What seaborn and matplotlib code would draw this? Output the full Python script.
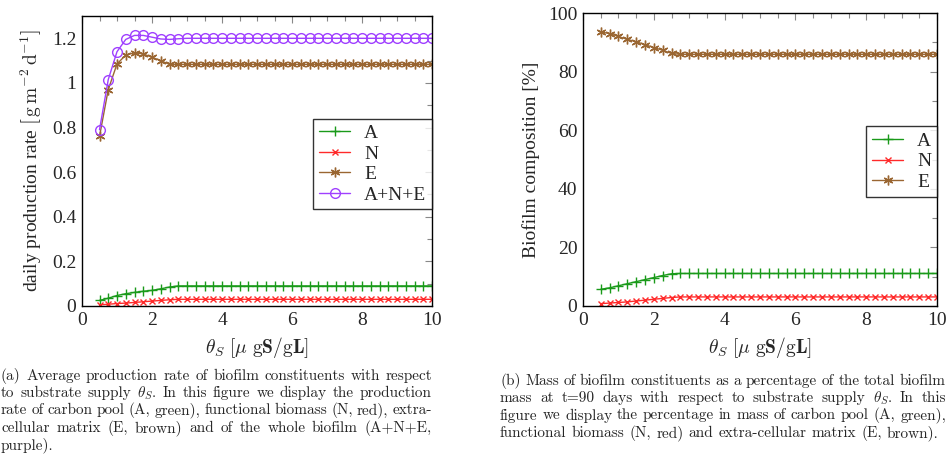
import numpy as np
import pandas as pd
import matplotlib
matplotlib.use("Agg")
import matplotlib.pyplot as plt
import seaborn as sns
from matplotlib.ticker import MultipleLocator

# ---------------- data ----------------
theta = [0.5, 0.75, 1.0, 1.25, 1.5, 1.75, 2.0, 2.25, 2.5, 2.75,
         3.0, 3.25, 3.5, 3.75, 4.0, 4.25, 4.5, 4.75, 5.0, 5.25,
         5.5, 5.75, 6.0, 6.25, 6.5, 6.75, 7.0, 7.25, 7.5, 7.75,
         8.0, 8.25, 8.5, 8.75, 9.0, 9.25, 9.5, 9.75, 10.0]

rate_A = [0.025, 0.035, 0.047, 0.055, 0.061, 0.066, 0.070, 0.077, 0.085, 0.090,
          0.090, 0.090, 0.090, 0.090, 0.090, 0.090, 0.090, 0.090, 0.090, 0.090,
          0.090, 0.090, 0.090, 0.090, 0.090, 0.090, 0.090, 0.090, 0.090, 0.090,
          0.090, 0.090, 0.090, 0.090, 0.090, 0.090, 0.090, 0.090, 0.090]
rate_N = [0.005, 0.008, 0.011, 0.013, 0.016, 0.019, 0.022, 0.025, 0.028, 0.030,
          0.030, 0.030, 0.030, 0.030, 0.030, 0.030, 0.030, 0.030, 0.030, 0.030,
          0.030, 0.030, 0.030, 0.030, 0.030, 0.030, 0.030, 0.030, 0.030, 0.030,
          0.030, 0.030, 0.030, 0.030, 0.030, 0.030, 0.030, 0.030, 0.030]
rate_E = [0.760, 0.970, 1.085, 1.125, 1.135, 1.130, 1.115, 1.100, 1.083, 1.083,
          1.083, 1.083, 1.083, 1.083, 1.083, 1.083, 1.083, 1.083, 1.083, 1.083,
          1.083, 1.083, 1.083, 1.083, 1.083, 1.083, 1.083, 1.083, 1.083, 1.083,
          1.083, 1.083, 1.083, 1.083, 1.083, 1.083, 1.083, 1.083, 1.083]
rate_ANE = [0.790, 1.015, 1.140, 1.195, 1.213, 1.213, 1.205, 1.197, 1.195, 1.198,
            1.200, 1.200, 1.200, 1.200, 1.200, 1.200, 1.200, 1.200, 1.200, 1.200,
            1.200, 1.200, 1.200, 1.200, 1.200, 1.200, 1.200, 1.200, 1.200, 1.200,
            1.200, 1.200, 1.200, 1.200, 1.200, 1.200, 1.200, 1.200, 1.200]

comp_A = [5.7, 6.2, 6.9, 7.6, 8.3, 9.0, 9.7, 10.4, 11.0, 11.1,
          11.1, 11.1, 11.1, 11.1, 11.1, 11.1, 11.1, 11.1, 11.1, 11.1,
          11.1, 11.1, 11.1, 11.1, 11.1, 11.1, 11.1, 11.1, 11.1, 11.1,
          11.1, 11.1, 11.1, 11.1, 11.1, 11.1, 11.1, 11.1, 11.1]
comp_N = [0.8, 1.0, 1.2, 1.4, 1.7, 2.0, 2.3, 2.6, 2.9, 3.1,
          3.1, 3.1, 3.1, 3.1, 3.1, 3.1, 3.1, 3.1, 3.1, 3.1,
          3.1, 3.1, 3.1, 3.1, 3.1, 3.1, 3.1, 3.1, 3.1, 3.1,
          3.1, 3.1, 3.1, 3.1, 3.1, 3.1, 3.1, 3.1, 3.1]
comp_E = [93.5, 93.0, 92.0, 91.0, 90.2, 89.2, 88.2, 87.3, 86.2, 85.9,
          85.9, 85.9, 85.9, 85.9, 85.9, 85.9, 85.9, 85.9, 85.9, 85.9,
          85.9, 85.9, 85.9, 85.9, 85.9, 85.9, 85.9, 85.9, 85.9, 85.9,
          85.9, 85.9, 85.9, 85.9, 85.9, 85.9, 85.9, 85.9, 85.9]

labels_rate = ["A", "N", "E", "A+N+E"]
labels_comp = ["A", "N", "E"]

caption_a = [
    "(a)  Average production rate of biofilm constituents with respect",
    r"to substrate supply $\theta_S$. In this figure we display the production",
    "rate of carbon pool (A, green), functional biomass (N, red), extra-",
    "cellular matrix (E, brown) and of the whole biofilm (A+N+E,",
    "purple).",
]
caption_b = [
    "(b) Mass of biofilm constituents as a percentage of the total biofilm",
    r"mass at t=90 days with respect to substrate supply $\theta_S$. In this",
    "figure we display the percentage in mass of carbon pool (A, green),",
    "functional biomass (N, red) and extra-cellular matrix (E, brown).",
]

# ---------------- style ----------------
sns.set_theme(style="white")
plt.rcParams["font.family"] = ["Liberation Serif", "DejaVu Serif"]
plt.rcParams["mathtext.fontset"] = "cm"

colors = {"A": "#1a9a1a", "N": "#ff2a2a", "E": "#9a6632", "A+N+E": "#a040ff"}
markers = {"A": "+", "N": "x", "E": (6, 2, 0), "A+N+E": "o"}
msize = {"A": 7, "N": 5, "E": 7, "A+N+E": 7}

W, H = 948, 461
fig = plt.figure(figsize=(W / 100, H / 100), dpi=100)
axL = fig.add_axes([82 / W, 1 - 306 / H, (432 - 82) / W, (306 - 16) / H])
axR = fig.add_axes([583 / W, 1 - 306 / H, (937 - 583) / W, (306 - 13) / H])


def draw(ax, series, labels):
    df = pd.DataFrame({"theta": theta})
    for lab, vals in zip(labels, series):
        df[lab] = vals
    long = df.melt(id_vars="theta", var_name="series", value_name="val")
    for lab in labels:
        sub = long[long["series"] == lab]
        kw = dict(color=colors[lab], marker=markers[lab], markersize=msize[lab],
                  linewidth=1.0, markeredgewidth=1.0, markeredgecolor=colors[lab])
        if lab == "A+N+E":
            kw["markerfacecolor"] = "none"
        sns.lineplot(data=sub, x="theta", y="val", ax=ax, label=lab, **kw)


draw(axL, [rate_A, rate_N, rate_E, rate_ANE], labels_rate)
draw(axR, [comp_A, comp_N, comp_E], labels_comp)

xlab = r"$\theta_S\ [\mu\ \mathrm{g}\mathbf{S}/\mathrm{g}\mathbf{L}]$"
for ax in (axL, axR):
    ax.set_xlim(0, 10)
    ax.xaxis.set_major_locator(MultipleLocator(2))
    ax.xaxis.set_minor_locator(MultipleLocator(0.5))
    ax.tick_params(which="both", direction="in", top=True, right=True,
                   color="#888888", labelsize=14, pad=4)
    ax.tick_params(which="major", length=5, width=0.8)
    ax.tick_params(which="minor", length=3.5, width=0.8)
    for s in ax.spines.values():
        s.set_color("black")
        s.set_linewidth(1.0)
    ax.set_xlabel(xlab, fontsize=14, labelpad=5)

axL.set_ylim(0, 1.3)
axL.yaxis.set_minor_locator(MultipleLocator(0.1))
axL.set_yticks([0, 0.2, 0.4, 0.6, 0.8, 1.0, 1.2])
axL.set_yticklabels(["0", "0.2", "0.4", "0.6", "0.8", "1", "1.2"])
axL.set_ylabel(r"daily production rate $\left[\,\mathrm{g\,m^{-2}\,d^{-1}}\right]$",
               fontsize=14, labelpad=6)

axR.set_ylim(0, 100)
axR.yaxis.set_major_locator(MultipleLocator(20))
axR.yaxis.set_minor_locator(MultipleLocator(10))
axR.set_ylabel("Biofilm composition [%]", fontsize=14, labelpad=6)

for ax, loc in ((axL, (1.0, 0.333)), (axR, (1.0, 0.373))):
    leg = ax.legend(loc="lower right", bbox_to_anchor=loc, fontsize=14,
                    frameon=True, fancybox=False, edgecolor="black",
                    handlelength=1.6, borderpad=0.3, labelspacing=0.15,
                    handletextpad=0.7, borderaxespad=0.0)
    leg.get_frame().set_linewidth(1.0)

# ---------------- captions (justified) ----------------
fig.canvas.draw()
renderer = fig.canvas.get_renderer()
cap_font = dict(family="cmr10", fontsize=11)


def space_width():
    s1 = fig.text(0, 0, "a a", **cap_font)
    s2 = fig.text(0, 0, "aa", **cap_font)
    w = s1.get_window_extent(renderer).width - s2.get_window_extent(renderer).width
    s1.remove(); s2.remove()
    return w


SP = space_width()


def justify(lines, x0, x1, y0, dy):
    for i, line in enumerate(lines):
        y = 1 - (y0 + i * dy) / H
        last = (i == len(lines) - 1)
        words = [w for w in line.split(" ") if w != ""]
        texts = [fig.text(0, y, w, va="center", ha="left", **cap_font) for w in words]
        widths = [t.get_window_extent(renderer).width for t in texts]
        natural = sum(widths) + SP * (len(words) - 1)
        if (last and natural <= x1 - x0) or len(words) == 1:
            gap = SP
        else:
            gap = (x1 - x0 - sum(widths)) / (len(words) - 1)
        x = x0
        for t, w in zip(texts, widths):
            t.set_x(x / W)
            x += w + gap


justify(caption_a, 1, 432, 376, 17.3)
justify(caption_b, 500, 946, 381, 17.3)

fig.savefig("out.png", dpi=100)
